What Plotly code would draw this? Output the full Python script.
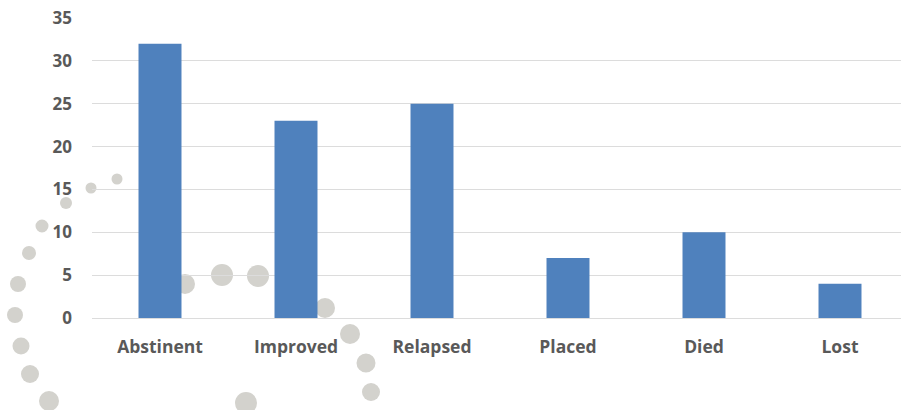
import plotly.graph_objects as go

categories = ["Abstinent", "Improved", "Relapsed", "Placed", "Died", "Lost"]
values = [32, 23, 25, 7, 10, 4]
y_ticks = [0, 5, 10, 15, 20, 25, 30, 35]

# decorative grey dots (pixel centre x, y, radius) from the slide background
deco_dots = [
    (117, 179, 5.5), (91, 188, 5.5), (66, 203, 6), (42, 226, 6.5), (29, 253, 7),
    (18, 284, 8), (15, 315, 8), (21, 346, 8.5), (30, 374, 9), (49, 401, 10),
    (185, 284, 10), (222, 275, 11), (258, 276, 11), (325, 308, 10),
    (350, 334, 10), (366, 363, 9.5), (371, 392, 9), (246, 403, 11),
]

W, H = 901, 410
ML, MR, MT, MB = 92, 0, 18, 92
PW, PH = W - ML - MR, H - MT - MB

fig = go.Figure()
fig.add_trace(go.Bar(
    x=categories, y=values, marker=dict(color="#4f81bd", line=dict(width=0)),
    width=0.316,
))

shapes = []
for (cx, cy, r) in deco_dots:
    shapes.append(dict(
        type="circle", xref="paper", yref="paper", layer="below",
        x0=(cx - r - ML) / PW, x1=(cx + r - ML) / PW,
        y0=(H - MB - (cy + r)) / PH, y1=(H - MB - (cy - r)) / PH,
        fillcolor="#d3d2cd", line=dict(width=0),
    ))

fig.update_layout(
    width=W, height=H,
    margin=dict(l=ML, r=MR, t=MT, b=MB),
    plot_bgcolor="rgba(0,0,0,0)", paper_bgcolor="white",
    showlegend=False,
    shapes=shapes,
    font=dict(family="Open Sans", color="#595959"),
    xaxis=dict(
        range=[-0.5, -0.5 + PW / 136.0], showgrid=False, zeroline=False,
        showline=False, ticks="", fixedrange=True, ticklabelstandoff=16,
        tickfont=dict(size=17.5, family="Open Sans", color="#595959", weight="bold"),
    ),
    yaxis=dict(
        range=[0, 35], tickvals=y_ticks, showgrid=True, gridcolor="#dcdcdc",
        gridwidth=1, zeroline=True, zerolinecolor="#dcdcdc", zerolinewidth=1,
        showline=False, ticks="", ticklabelstandoff=19,
        tickfont=dict(size=17, family="Open Sans", color="#595959", weight="bold"),
    ),
    bargap=0.684,
)

fig.write_html("out.html")
